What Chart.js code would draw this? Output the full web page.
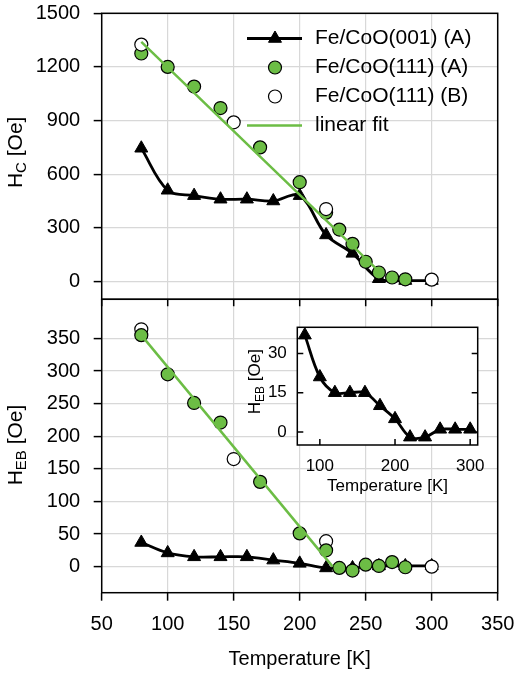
<!DOCTYPE html>
<html>
<head>
<meta charset="utf-8">
<script src="https://cdn.jsdelivr.net/npm/chart.js@4"></script>
<style>
  body { margin: 0; background: #fff; }
  #wrap { position: relative; width: 516px; height: 675px; }
  canvas { position: absolute; }
  #topChart { left: 0; top: 0; }
  #bottomChart { left: 0; top: 298px; }
  #insetChart { left: 240px; top: 320px; }
</style>
</head>
<body>
<div id="wrap">
  <canvas id="topChart" width="516" height="300"></canvas>
  <canvas id="bottomChart" width="516" height="377"></canvas>
  <canvas id="insetChart" width="276" height="180"></canvas>
</div>
<script>
// tick labels
const xTicks = [50, 100, 150, 200, 250, 300, 350];
const hcTicks = [0, 300, 600, 900, 1200, 1500];
const hebTicks = [0, 50, 100, 150, 200, 250, 300, 350];
const insetXTicks = [100, 200, 300];
const insetYTicks = [0, 15, 30];

// Fe/CoO(001) (A)
const temp001 = [80, 100, 120, 140, 160, 180, 200, 220, 240, 260, 280, 300];
const hc001 = [745, 510, 480, 460, 460, 450, 480, 260, 157, 15, 5, 5];
const heb001 = [37, 21, 15, 15, 15, 10, 5, -2, -2, 1, 1, 1];

// Fe/CoO(111) (A)
const temp111A = [80, 100, 120, 140, 170, 200, 220, 230, 240, 250, 260, 270, 280];
const hc111A = [1275, 1200, 1090, 970, 750, 555, 385, 290, 210, 110, 50, 22, 12];
const heb111A = [355, 295, 251, 221, 130, 51, 25, -2, -6, 3, 1, 7, -1];

// Fe/CoO(111) (B)
const temp111B = [80, 150, 220, 300];
const hc111B = [1325, 890, 405, 10];
const heb111B = [364, 165, 39, 0];

// linear fits (end points)
const fitHcT = [80, 263];
const fitHc = [1340, 35];
const fitHebT = [80, 225];
const fitHeb = [355, 0];

const fontFamily = '"Liberation Sans", Arial, Helvetica, sans-serif';
const green = '#6cbd45';
const gridColor = '#d8d8d8';

Chart.defaults.font.family = fontFamily;
Chart.defaults.color = '#000';

function pts(xs, ys) {
    return xs.map((x, i) => ({ x: x, y: ys[i] }));
}

function setTicks(values) {
    return scale => { scale.ticks = values.map(v => ({ value: v })); };
}

// fixed box sizes so the panels line up
function fixWidth(w) {
    return s => { s.width = w; s.paddingTop = 0; s.paddingBottom = 0; };
}
function fixHeight(h) {
    return s => { s.height = h; s.paddingLeft = 0; s.paddingRight = 0; };
}
const plainLabel = v => String(v);

// box round the plot area, plus inward tick marks
const framePlugin = {
    id: 'frame',
    beforeDraw(chart, args, opts) {
        if (!opts.fill) return;
        const a = chart.chartArea;
        chart.ctx.save();
        chart.ctx.fillStyle = '#fff';
        chart.ctx.fillRect(a.left, a.top, a.right - a.left, a.bottom - a.top);
        chart.ctx.restore();
    },
    beforeDatasetsDraw(chart, args, opts) {
        const { ctx, chartArea: a, scales } = chart;
        ctx.save();
        ctx.strokeStyle = '#000';
        ctx.lineWidth = opts.width || 1.5;
        ctx.strokeRect(a.left, a.top, a.right - a.left, a.bottom - a.top);
        const len = opts.tickLen || 7;
        ctx.beginPath();
        (opts.sides || []).forEach(side => {
            if (side === 'top' || side === 'bottom') {
                const y0 = side === 'top' ? a.top : a.bottom;
                const dir = side === 'top' ? 1 : -1;
                scales.x.ticks.forEach(t => {
                    const px = scales.x.getPixelForValue(t.value);
                    ctx.moveTo(px, y0);
                    ctx.lineTo(px, y0 + dir * len);
                });
            } else {
                const x0 = side === 'left' ? a.left : a.right;
                const dir = side === 'left' ? 1 : -1;
                scales.y.ticks.forEach(t => {
                    const py = scales.y.getPixelForValue(t.value);
                    ctx.moveTo(x0, py);
                    ctx.lineTo(x0 + dir * len, py);
                });
            }
        });
        ctx.stroke();
        ctx.restore();
    }
};

// rotated y title with a subscript
const axisTitlePlugin = {
    id: 'axisTitle',
    afterDraw(chart, args, o) {
        if (!o.main) return;
        const { ctx, chartArea: a } = chart;
        ctx.save();
        ctx.translate(o.x, (a.top + a.bottom) / 2 + (o.dy || 0));
        ctx.rotate(-Math.PI / 2);
        const f1 = o.size + 'px ' + fontFamily;
        const f2 = o.subSize + 'px ' + fontFamily;
        ctx.font = f1;
        const w1 = ctx.measureText(o.main).width;
        const w3 = ctx.measureText(o.rest).width;
        ctx.font = f2;
        const w2 = ctx.measureText(o.sub).width;
        let x = -(w1 + w2 + w3) / 2;
        ctx.fillStyle = '#000';
        ctx.textBaseline = 'alphabetic';
        ctx.font = f1;
        ctx.fillText(o.main, x, 0);
        x += w1;
        ctx.font = f2;
        ctx.fillText(o.sub, x, o.shift);
        x += w2;
        ctx.font = f1;
        ctx.fillText(o.rest, x, 0);
        ctx.restore();
    }
};

// legend inside the top panel
const insideLegend = {
    id: 'insideLegend',
    afterDatasetsDraw(chart, args, o) {
        if (!o.show) return;
        const ctx = chart.ctx;
        ctx.save();
        chart.data.datasets.forEach((ds, i) => {
            const y = o.y0 + i * o.dy;
            if (ds.showLine) {
                ctx.strokeStyle = ds.borderColor;
                ctx.lineWidth = ds.borderWidth;
                ctx.beginPath();
                ctx.moveTo(o.lineX1, y);
                ctx.lineTo(o.lineX2, y);
                ctx.stroke();
            }
            if (ds.pointRadius > 0) {
                ctx.fillStyle = ds.pointBackgroundColor;
                ctx.strokeStyle = ds.pointBorderColor;
                ctx.lineWidth = ds.pointBorderWidth;
                Chart.helpers.drawPoint(ctx, {
                    pointStyle: ds.pointStyle,
                    radius: ds.pointRadius,
                    borderWidth: ds.pointBorderWidth,
                    rotation: 0
                }, o.symX, y);
            }
            ctx.fillStyle = '#000';
            ctx.font = o.size + 'px ' + fontFamily;
            ctx.textBaseline = 'middle';
            ctx.textAlign = 'left';
            ctx.fillText(ds.label, o.textX, y);
        });
        ctx.restore();
    }
};

function blackSet(xs, ys, order) {
    return {
        label: 'Fe/CoO(001) (A)', data: pts(xs, ys), showLine: true,
        borderColor: '#000', borderWidth: 2.8, tension: 0.35,
        pointStyle: 'triangle', pointRadius: 7.5,
        pointBackgroundColor: '#000', pointBorderColor: '#000', pointBorderWidth: 1,
        clip: false, order: order
    };
}

function circleSet(label, xs, ys, fill, order) {
    return {
        label: label, data: pts(xs, ys), showLine: false,
        pointStyle: 'circle', pointRadius: 6.5,
        pointBackgroundColor: fill, pointBorderColor: '#000', pointBorderWidth: 1.2,
        clip: false, order: order
    };
}

function fitSet(xs, ys) {
    return {
        label: 'linear fit', data: pts(xs, ys), showLine: true,
        borderColor: green, borderWidth: 2.5, pointRadius: 0,
        clip: false, order: 0
    };
}

const commonPlugins = [framePlugin, axisTitlePlugin, insideLegend];

// top panel : H_C
new Chart(document.getElementById('topChart'), {
    type: 'scatter',
    data: {
        datasets: [
            blackSet(temp001, hc001, 3),
            circleSet('Fe/CoO(111) (A)', temp111A, hc111A, green, 2),
            circleSet('Fe/CoO(111) (B)', temp111B, hc111B, '#fff', 1),
            fitSet(fitHcT, fitHc)
        ]
    },
    options: {
        responsive: false,
        animation: false,
        layout: { autoPadding: false, padding: { top: 13.3, right: 18.3, bottom: 0.7, left: 0 } },
        plugins: {
            legend: { display: false },
            tooltip: { enabled: false },
            frame: { sides: [] },
            axisTitle: { main: 'H', sub: 'C', rest: ' [Oe]', x: 21.5, dy: -4, size: 21, subSize: 15, shift: 4 },
            insideLegend: { show: true, lineX1: 247, lineX2: 302, symX: 275, textX: 315, y0: 38.5, dy: 29, size: 21 }
        },
        scales: {
            x: {
                type: 'linear', min: 50, max: 350,
                ticks: { display: false },
                grid: { color: gridColor, lineWidth: 1.2, drawTicks: false },
                border: { display: false },
                afterBuildTicks: setTicks(xTicks),
                afterFit: fixHeight(0)
            },
            y: {
                min: -100, max: 1500,
                ticks: { font: { size: 20 }, padding: 13.5, callback: plainLabel },
                grid: { color: gridColor, lineWidth: 1.2, tickColor: '#000', tickLength: 8, tickWidth: 1.5 },
                border: { display: false },
                afterBuildTicks: setTicks(hcTicks),
                afterFit: fixWidth(101.7)
            }
        }
    },
    plugins: commonPlugins
});

// bottom panel : H_EB
new Chart(document.getElementById('bottomChart'), {
    type: 'scatter',
    data: {
        datasets: [
            blackSet(temp001, heb001, 3),
            circleSet('Fe/CoO(111) (A)', temp111A, heb111A, green, 1),
            circleSet('Fe/CoO(111) (B)', temp111B, heb111B, '#fff', 2),
            fitSet(fitHebT, fitHeb)
        ]
    },
    options: {
        responsive: false,
        animation: false,
        layout: { autoPadding: false, padding: { top: 1.3, right: 18.3, bottom: 0, left: 0 } },
        plugins: {
            legend: { display: false },
            tooltip: { enabled: false },
            frame: { sides: ['top'], tickLen: 7 },
            axisTitle: { main: 'H', sub: 'EB', rest: ' [Oe]', x: 21.5, dy: -1, size: 21, subSize: 15, shift: 4 },
            insideLegend: { show: false }
        },
        scales: {
            x: {
                type: 'linear', min: 50, max: 350,
                ticks: { font: { size: 20 }, padding: 12, callback: plainLabel },
                grid: { color: gridColor, lineWidth: 1.2, tickColor: '#000', tickLength: 8, tickWidth: 1.5 },
                border: { display: false },
                title: { display: true, text: 'Temperature [K]', font: { size: 20 }, padding: { top: 0, bottom: 3.4 } },
                afterBuildTicks: setTicks(xTicks),
                afterFit: fixHeight(82.3)
            },
            y: {
                min: -40, max: 410,
                ticks: { font: { size: 20 }, padding: 13.5, callback: plainLabel },
                grid: { color: gridColor, lineWidth: 1.2, tickColor: '#000', tickLength: 8, tickWidth: 1.5 },
                border: { display: false },
                afterBuildTicks: setTicks(hebTicks),
                afterFit: fixWidth(101.7)
            }
        }
    },
    plugins: commonPlugins
});

// inset : H_EB of Fe/CoO(001)
new Chart(document.getElementById('insetChart'), {
    type: 'scatter',
    data: {
        datasets: [blackSet(temp001, heb001, 0)]
    },
    options: {
        responsive: false,
        animation: false,
        layout: { autoPadding: false, padding: { top: 7.3, right: 38.3, bottom: 0, left: 0 } },
        plugins: {
            legend: { display: false },
            tooltip: { enabled: false },
            frame: { fill: true, sides: ['bottom', 'left', 'right'], tickLen: 6 },
            axisTitle: { main: 'H', sub: 'EB', rest: ' [Oe]', x: 20, dy: -4.5, size: 17, subSize: 12, shift: 3.5 },
            insideLegend: { show: false }
        },
        scales: {
            x: {
                type: 'linear', min: 70, max: 310,
                ticks: { font: { size: 17 }, padding: 11, callback: plainLabel },
                grid: { display: false, drawTicks: false },
                border: { display: false },
                title: { display: true, text: 'Temperature [K]', font: { size: 17 }, padding: { top: 0, bottom: 3 } },
                afterBuildTicks: setTicks(insetXTicks),
                afterFit: fixHeight(55)
            },
            y: {
                min: -5, max: 40,
                ticks: { font: { size: 17 }, padding: 10.5, callback: plainLabel },
                grid: { display: false, drawTicks: false },
                border: { display: false },
                afterBuildTicks: setTicks(insetYTicks),
                afterFit: fixWidth(57.3)
            }
        }
    },
    plugins: commonPlugins
});
</script>
</body>
</html>
